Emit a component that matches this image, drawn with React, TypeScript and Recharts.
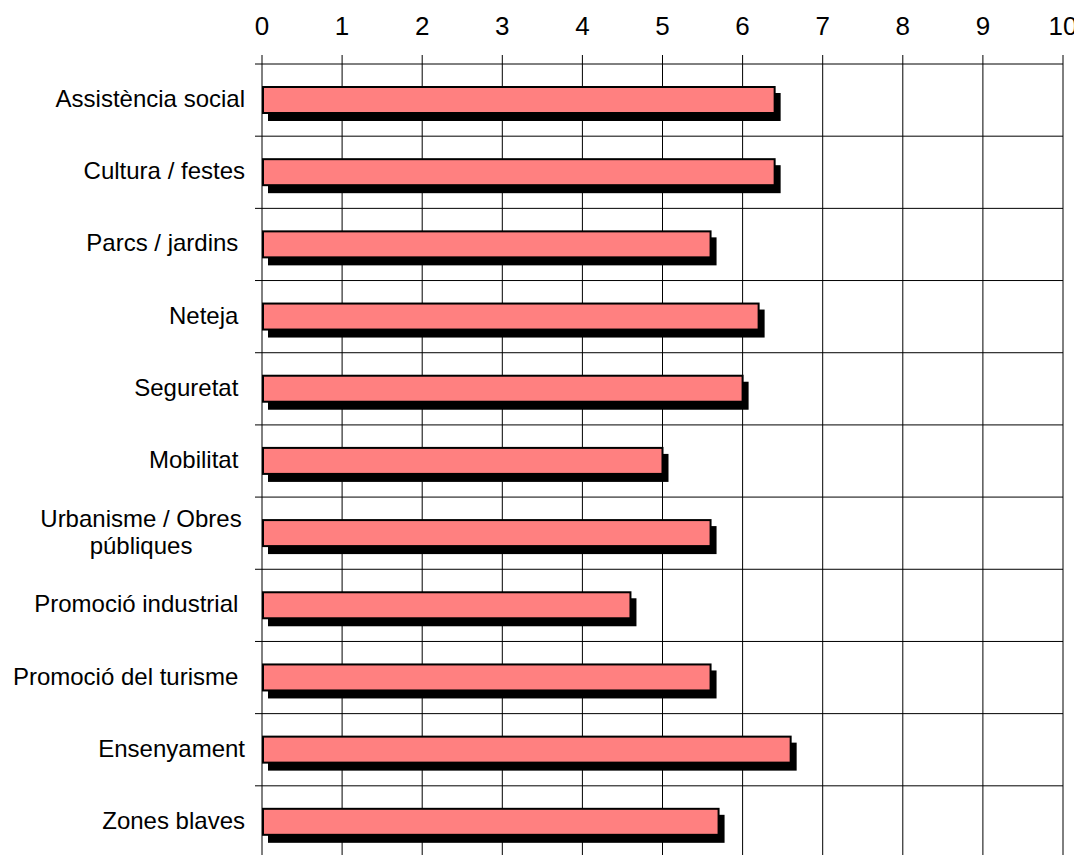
import { BarChart, Bar, XAxis, YAxis, CartesianGrid } from 'recharts';

const categories = [
  'Assistència social',
  'Cultura / festes',
  'Parcs / jardins ',
  'Neteja ',
  'Seguretat ',
  'Mobilitat ',
  'Urbanisme / Obres públiques',
  'Promoció industrial ',
  'Promoció del turisme ',
  'Ensenyament',
  'Zones blaves',
];
const scores = [6.4, 6.4, 5.6, 6.2, 6.0, 5.0, 5.6, 4.6, 5.6, 6.6, 5.7];
const xTicks = [0, 1, 2, 3, 4, 5, 6, 7, 8, 9, 10];

const data = categories.map((name, i) => ({ name, score: scores[i] }));

const W = 1074;
const H = 860;
const MARGIN = { top: 6, right: 19, bottom: 10, left: 0 };
const X_AXIS_H = 50;
const Y_AXIS_W = 254;
const PLOT_H = H - MARGIN.top - X_AXIS_H - MARGIN.bottom;
const BAND = PLOT_H / categories.length;
const LABEL_GAP = 17;
const TICK_LEN = 7;
const FONT = '"Liberation Sans", Arial, sans-serif';

// wrap long category names onto two lines, like the original
const wrap = (s: string) => {
  if (s.trim().length <= 22) return [s];
  const words = s.trim().split(' ');
  const lines: string[] = [];
  let cur = '';
  words.forEach((w) => {
    const next = cur ? cur + ' ' + w : w;
    if (next.length > 20 && cur) {
      lines.push(cur);
      cur = w;
    } else cur = next;
  });
  if (cur) lines.push(cur);
  return lines;
};

const CategoryTick = (props: any) => {
  const { x, y, payload, index } = props;
  const axisX = x + LABEL_GAP;
  const lines = wrap(payload.value);
  const multi = lines.length > 1;
  const tx = multi ? x - 104 : x;
  return (
    <g>
      <line x1={axisX - TICK_LEN} x2={axisX} y1={y - BAND / 2} y2={y - BAND / 2} stroke="#000" />
      {index === categories.length - 1 && (
        <line x1={axisX - TICK_LEN} x2={axisX} y1={y + BAND / 2} y2={y + BAND / 2} stroke="#000" />
      )}
      <text
        x={tx}
        y={y + 7 - ((lines.length - 1) * 27) / 2}
        textAnchor={multi ? 'middle' : 'end'}
        fontSize={24}
        fontFamily={FONT}
        fill="#000"
        style={{ whiteSpace: 'pre' }}
      >
        {lines.map((l, i) => (
          <tspan key={i} x={tx} dy={i === 0 ? 0 : 27}>
            {l}
          </tspan>
        ))}
      </text>
    </g>
  );
};

const ShadowBar = (props: any) => {
  const { x, y, width, height } = props;
  if (!width) return null;
  return (
    <g>
      <rect x={x + 6} y={y + 7} width={width} height={height} fill="#000" />
      <rect x={x + 1} y={y + 1} width={width - 1} height={height - 2} fill="#FF8080" stroke="#000" strokeWidth={2} />
    </g>
  );
};

export default function App() {
  return (
    <div style={{ width: W, height: H }}>
      <style>{'html,body{overflow:hidden} .recharts-surface{overflow:visible}'}</style>
      <BarChart width={W} height={H} data={data} layout="vertical" margin={MARGIN} barCategoryGap={0}>
        <CartesianGrid
          stroke="#000"
          horizontalCoordinatesGenerator={({ offset }: any) =>
            Array.from({ length: categories.length + 1 }, (_, i) => offset.top + (i * offset.height) / categories.length)
          }
        />
        <XAxis
          type="number"
          orientation="top"
          domain={[0, 10]}
          ticks={xTicks}
          interval={0}
          height={X_AXIS_H}
          axisLine={false}
          tickSize={9}
          tickMargin={20}
          tickLine={{ stroke: '#000' }}
          tick={{ fontSize: 26, fontFamily: FONT, fill: '#000' }}
        />
        <YAxis
          type="category"
          dataKey="name"
          width={Y_AXIS_W}
          axisLine={false}
          tickLine={false}
          tickSize={0}
          tickMargin={LABEL_GAP}
          interval={0}
          tick={<CategoryTick />}
        />
        <Bar dataKey="score" barSize={28} shape={<ShadowBar />} isAnimationActive={false} />
      </BarChart>
    </div>
  );
}
